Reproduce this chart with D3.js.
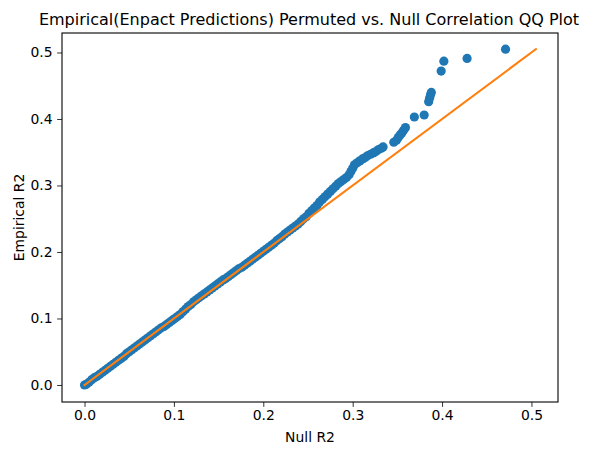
<!DOCTYPE html>
<html>
<head>
<meta charset="utf-8">
<script src="https://cdn.jsdelivr.net/npm/d3@7"></script>
<style>
  body { margin: 0; background: #fff; }
  text { font-family: "DejaVu Sans", sans-serif; fill: #000; }
</style>
</head>
<body>
<svg id="drawing_region"></svg>
<script>
// quantiles
const nullR2 = [
  0.000, 0.002, 0.005, 0.008, 0.011, 0.014, 0.017, 0.020, 0.023, 0.026,
  0.029, 0.032, 0.035, 0.038, 0.041, 0.044, 0.047, 0.050, 0.053, 0.056,
  0.059, 0.062, 0.065, 0.068, 0.071, 0.074, 0.077, 0.080, 0.083, 0.086,
  0.089, 0.092, 0.095, 0.098, 0.101, 0.104, 0.107, 0.110, 0.113, 0.116,
  0.119, 0.122, 0.125, 0.128, 0.131, 0.134, 0.137, 0.140, 0.143, 0.146,
  0.149, 0.152, 0.155, 0.158, 0.161, 0.164, 0.167, 0.170, 0.173, 0.176,
  0.179, 0.182, 0.185, 0.188, 0.191, 0.194, 0.197, 0.200, 0.203, 0.206,
  0.209, 0.212, 0.215, 0.218, 0.221, 0.224, 0.227, 0.230, 0.233, 0.236,
  0.239, 0.242, 0.245, 0.248, 0.251, 0.254, 0.257, 0.260, 0.263, 0.266,
  0.269, 0.272, 0.275, 0.278, 0.281, 0.284, 0.287, 0.290, 0.293, 0.296,
  0.298, 0.300, 0.302, 0.305, 0.308, 0.311, 0.314, 0.317, 0.320, 0.323,
  0.326, 0.329, 0.332, 0.334, 0.346, 0.349, 0.351, 0.353, 0.355, 0.357,
  0.359, 0.369, 0.380, 0.385, 0.386, 0.387, 0.388, 0.399, 0.402, 0.428,
  0.471
];
const empiricalR2 = [
  0.000, 0.001, 0.004, 0.008, 0.011, 0.013, 0.016, 0.019, 0.022, 0.025,
  0.028, 0.031, 0.034, 0.037, 0.040, 0.043, 0.047, 0.050, 0.053, 0.056,
  0.059, 0.062, 0.065, 0.068, 0.071, 0.074, 0.077, 0.080, 0.083, 0.086,
  0.088, 0.091, 0.094, 0.097, 0.100, 0.103, 0.106, 0.110, 0.114, 0.118,
  0.121, 0.125, 0.128, 0.131, 0.134, 0.137, 0.140, 0.143, 0.146, 0.149,
  0.152, 0.155, 0.158, 0.160, 0.163, 0.166, 0.169, 0.172, 0.175, 0.177,
  0.180, 0.183, 0.186, 0.189, 0.192, 0.195, 0.198, 0.201, 0.204, 0.207,
  0.210, 0.213, 0.217, 0.220, 0.223, 0.227, 0.230, 0.233, 0.236, 0.239,
  0.242, 0.246, 0.250, 0.253, 0.258, 0.262, 0.266, 0.270, 0.275, 0.279,
  0.283, 0.287, 0.291, 0.295, 0.299, 0.303, 0.306, 0.309, 0.312, 0.316,
  0.321, 0.326, 0.331, 0.334, 0.337, 0.340, 0.342, 0.345, 0.347, 0.349,
  0.351, 0.354, 0.356, 0.358, 0.365, 0.368, 0.372, 0.376, 0.379, 0.383,
  0.387, 0.403, 0.406, 0.426, 0.431, 0.436, 0.440, 0.472, 0.487, 0.491,
  0.505
];
// y = x reference line
const refLine = [0, 0.505];

const xTicks = [0.0, 0.1, 0.2, 0.3, 0.4, 0.5];
const yTicks = [0.0, 0.1, 0.2, 0.3, 0.4, 0.5];

const titleText = "Empirical(Enpact Predictions) Permuted vs. Null Correlation QQ Plot";
const xLabel = "Null R2";
const yLabel = "Empirical R2";

const config = {
    parent: '#drawing_region',
    width: 599,
    height: 455,
    margin: { left: 62, right: 41, top: 33, bottom: 53 }
};

class QQPlot {
    constructor( config ) {
        this.config = config;
        this.init();
    }

    init() {
        let self = this;
        const m = self.config.margin;
        self.innerW = self.config.width - m.left - m.right;
        self.innerH = self.config.height - m.top - m.bottom;

        self.svg = d3.select( self.config.parent )
            .attr('width', self.config.width)
            .attr('height', self.config.height);

        self.chart = self.svg.append('g')
            .attr('transform', `translate(${m.left}, ${m.top})`);

        self.xScale = d3.scaleLinear()
            .domain([-0.0252, 0.5297])
            .range([0, self.innerW]);
        self.yScale = d3.scaleLinear()
            .domain([-0.0256, 0.5293])
            .range([self.innerH, 0]);
    }

    render() {
        let self = this;
        const fmt = d3.format('.1f');

        // x axis
        const xAxis = d3.axisBottom(self.xScale)
            .tickValues(xTicks).tickFormat(fmt)
            .tickSizeOuter(0).tickSize(4.9).tickPadding(3.5);
        const gx = self.chart.append('g')
            .attr('transform', `translate(0, ${self.innerH})`)
            .call(xAxis);
        gx.select('.domain').remove();
        gx.selectAll('line').attr('stroke', '#000').attr('stroke-width', 0.8);
        gx.selectAll('text')
            .style('font-size', '13.9px')
            .attr('font-family', 'DejaVu Sans');

        // y axis
        const yAxis = d3.axisLeft(self.yScale)
            .tickValues(yTicks).tickFormat(fmt)
            .tickSizeOuter(0).tickSize(4.9).tickPadding(4.5);
        const gy = self.chart.append('g').call(yAxis);
        gy.select('.domain').remove();
        gy.selectAll('line').attr('stroke', '#000').attr('stroke-width', 0.8);
        gy.selectAll('text')
            .style('font-size', '13.9px')
            .attr('font-family', 'DejaVu Sans');

        // scatter
        const pts = nullR2.map((x, i) => [x, empiricalR2[i]]);
        self.chart.append('g')
            .selectAll('circle')
            .data(pts)
            .join('circle')
            .attr('cx', d => self.xScale(d[0]))
            .attr('cy', d => self.yScale(d[1]))
            .attr('r', 4.6)
            .attr('fill', '#1f77b4');

        // reference line
        const line = d3.line()
            .x(d => self.xScale(d))
            .y(d => self.yScale(d));
        self.chart.append('path')
            .datum(refLine)
            .attr('d', line)
            .attr('fill', 'none')
            .attr('stroke', '#ff7f0e')
            .attr('stroke-width', 2.1)
            .attr('stroke-linecap', 'square');

        // frame
        self.chart.append('rect')
            .attr('width', self.innerW)
            .attr('height', self.innerH)
            .attr('fill', 'none')
            .attr('stroke', '#000')
            .attr('stroke-width', 1.1);

        // texts
        self.svg.append('text')
            .attr('x', 309)
            .attr('y', 25)
            .attr('text-anchor', 'middle')
            .style('font-size', '16px')
            .text(titleText);

        self.svg.append('text')
            .attr('x', config.margin.left + self.innerW / 2)
            .attr('y', 442)
            .attr('text-anchor', 'middle')
            .style('font-size', '13.9px')
            .text(xLabel);

        self.svg.append('text')
            .attr('transform', `translate(24, ${config.margin.top + self.innerH / 2}) rotate(-90)`)
            .attr('text-anchor', 'middle')
            .style('font-size', '13.9px')
            .text(yLabel);
    }
}

const qq = new QQPlot( config );
qq.render();
</script>
</body>
</html>
